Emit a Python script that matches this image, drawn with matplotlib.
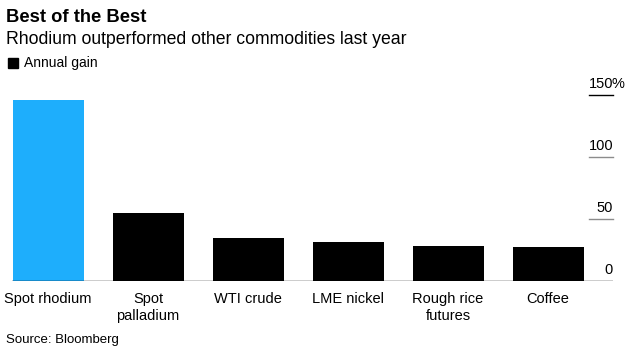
import matplotlib
matplotlib.use("Agg")
import matplotlib.pyplot as plt
import matplotlib.transforms as mtransforms

categories = ["Spot rhodium", "Spot\npalladium", "WTI crude", "LME nickel", "Rough rice\nfutures", "Coffee"]
gains = [146, 54.5, 34.5, 31.5, 28.3, 27.3]
colors = ["#1eaefc", "#000000", "#000000", "#000000", "#000000", "#000000"]
ytick_values = [0, 50, 100, 150]
ytick_labels = ["0", "50", "100", "150"]

FONT = "Liberation Sans"
W, H = 632, 350
fig = plt.figure(figsize=(W / 100, H / 100), dpi=100)
fig.patch.set_facecolor("white")

left_px, right_px, bottom_px, top_px = 12, 613, 281, 95
ax = fig.add_axes([left_px / W, 1 - bottom_px / H, (right_px - left_px) / W, (bottom_px - top_px) / H])
ax.set_xlim(-0.36, 5.65)
ax.set_ylim(0, 150)
x = list(range(len(categories)))
ax.bar(x, gains, width=0.71, color=colors, zorder=2)

for s in ax.spines.values():
    s.set_visible(False)
ax.set_yticks([])
ax.set_xticks(x)
ax.set_xticklabels(categories, fontsize=10.5, family=FONT, linespacing=1.3)
ax.tick_params(axis="x", length=0, pad=8)

# baseline
ax.axhline(0, color="black", lw=1.0, zorder=3)

# right-side tick segments and labels
trans = mtransforms.blended_transform_factory(ax.transAxes, ax.transData)
seg_start = 1 - (613 - 589) / (613 - 12)
for v, lab in zip(ytick_values, ytick_labels):
    if v != 0:
        col = "black" if v == 150 else "#8c8c8c"
        ax.plot([seg_start, 1.0], [v, v], transform=trans, color=col, lw=1.0, clip_on=False, zorder=3)
    ax.text(1.0, v + 3.5, lab, transform=trans, ha="right", va="bottom", fontsize=10.5, family=FONT)
ax.text(0.998, 150 + 3.5, "%", transform=trans, ha="left", va="bottom", fontsize=10.5, family=FONT)

# titles
fig.text(6 / W, 1 - 17 / H, "Best of the Best", fontsize=13.2, fontweight="bold", family=FONT, va="center", ha="left")
fig.text(6 / W, 1 - 40 / H, "Rhodium outperformed other commodities last year", fontsize=12.7, family=FONT, va="center", ha="left")
fig.patches.append(plt.Rectangle((8 / W, 1 - 68 / H), 10 / W, 10 / H, transform=fig.transFigure, color="black"))
fig.text(24 / W, 1 - 63 / H, "Annual gain", fontsize=10, family=FONT, va="center", ha="left")
fig.text(6 / W, 1 - 340 / H, "Source: Bloomberg", fontsize=9.5, family=FONT, va="center", ha="left")

fig.savefig("out.png", dpi=100)
